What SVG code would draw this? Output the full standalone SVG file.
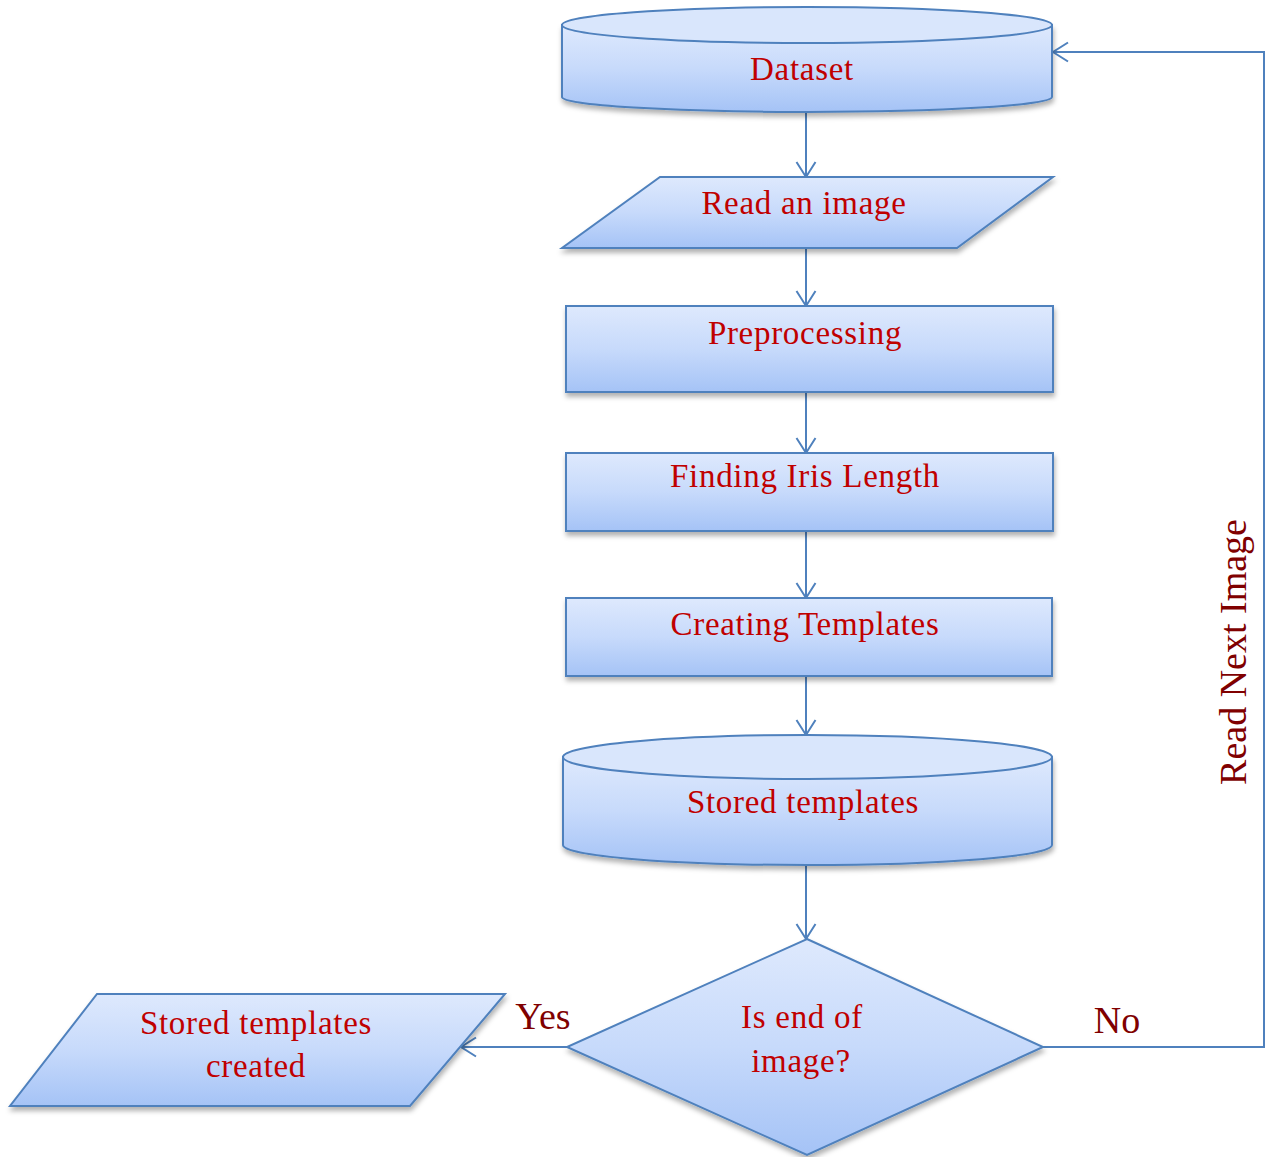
<svg xmlns="http://www.w3.org/2000/svg" width="1271" height="1157" viewBox="0 0 1271 1157">
<defs>
<linearGradient id="g" x1="0" y1="0" x2="0" y2="1">
<stop offset="0" stop-color="#DEE9FD"/>
<stop offset="0.5" stop-color="#C7DAFB"/>
<stop offset="1" stop-color="#A5C3F6"/>
</linearGradient>
<filter id="sh" x="-5%" y="-10%" width="115%" height="130%">
<feDropShadow dx="1" dy="4" stdDeviation="2.5" flood-color="#000" flood-opacity="0.3"/>
</filter>
<marker id="ar" markerWidth="20" markerHeight="22" refX="16" refY="11" orient="auto" markerUnits="userSpaceOnUse">
<path d="M1,1.5 L16,11 L1,20.5" fill="none" stroke="#4F81BD" stroke-width="2"/>
</marker>
</defs>
<style>
.s{fill:url(#g);stroke:#4F81BD;stroke-width:2;filter:url(#sh)}
.top{fill:#D9E6FC;stroke:#4F81BD;stroke-width:2}
.c{fill:none;stroke:#4F81BD;stroke-width:2}
.t{font-family:"Liberation Serif","Times New Roman",serif;font-size:33px;fill:#C00000;text-anchor:middle;letter-spacing:0.7px}
.l{font-family:"Liberation Serif","Times New Roman",serif;font-size:38px;fill:#800000;text-anchor:middle}
</style>
<rect width="1271" height="1157" fill="#FFFFFF"/>

<g id="connectors">
<line class="c" x1="806" y1="112" x2="806" y2="177" marker-end="url(#ar)"/>
<line class="c" x1="806" y1="248" x2="806" y2="306" marker-end="url(#ar)"/>
<line class="c" x1="806" y1="392" x2="806" y2="453" marker-end="url(#ar)"/>
<line class="c" x1="806" y1="531" x2="806" y2="598" marker-end="url(#ar)"/>
<line class="c" x1="806" y1="676" x2="806" y2="735" marker-end="url(#ar)"/>
<line class="c" x1="806" y1="865" x2="806" y2="939" marker-end="url(#ar)"/>
<line class="c" x1="567" y1="1047" x2="461" y2="1047" marker-end="url(#ar)"/>
<polyline class="c" points="1043,1047 1264,1047 1264,52 1053,52" marker-end="url(#ar)"/>
<text class="l" x="543" y="1029">Yes</text>
<text class="l" x="1117" y="1033">No</text>
<text class="l" transform="translate(1246,652) rotate(-90)" x="0" y="0">Read Next Image</text>
</g>

<g id="dataset">
<path class="s" d="M562,25 L562,97 A245,15 0 0 0 1052,97 L1052,25 Z"/>
<ellipse class="top" cx="807" cy="25" rx="245" ry="18"/>
<text class="t" x="802" y="80">Dataset</text>
</g>

<g id="read-image">
<polygon class="s" points="660,177 1053,177 957,248 562,248"/>
<text class="t" x="804" y="214">Read an image</text>
</g>

<g id="preprocessing">
<rect class="s" x="566" y="306" width="487" height="86"/>
<text class="t" x="805" y="344">Preprocessing</text>
</g>

<g id="iris-length">
<rect class="s" x="566" y="453" width="487" height="78"/>
<text class="t" x="805" y="487">Finding Iris Length</text>
</g>

<g id="creating-templates">
<rect class="s" x="566" y="598" width="486" height="78"/>
<text class="t" x="805" y="635">Creating Templates</text>
</g>

<g id="stored-templates">
<path class="s" d="M563,757 L563,845 A244.5,20 0 0 0 1052,845 L1052,757 Z"/>
<ellipse class="top" cx="807.5" cy="757" rx="244.5" ry="22"/>
<text class="t" x="803" y="813">Stored templates</text>
</g>

<g id="decision">
<polygon class="s" points="807,939 1043,1047 807,1155 567,1047"/>
<text class="t" x="802" y="1028">Is end of</text>
<text class="t" x="801" y="1072">image?</text>
</g>

<g id="templates-created">
<polygon class="s" points="97,994 505,994 410,1106 10,1106"/>
<text class="t" x="256" y="1034">Stored templates</text>
<text class="t" x="256" y="1077">created</text>
</g>
</svg>
